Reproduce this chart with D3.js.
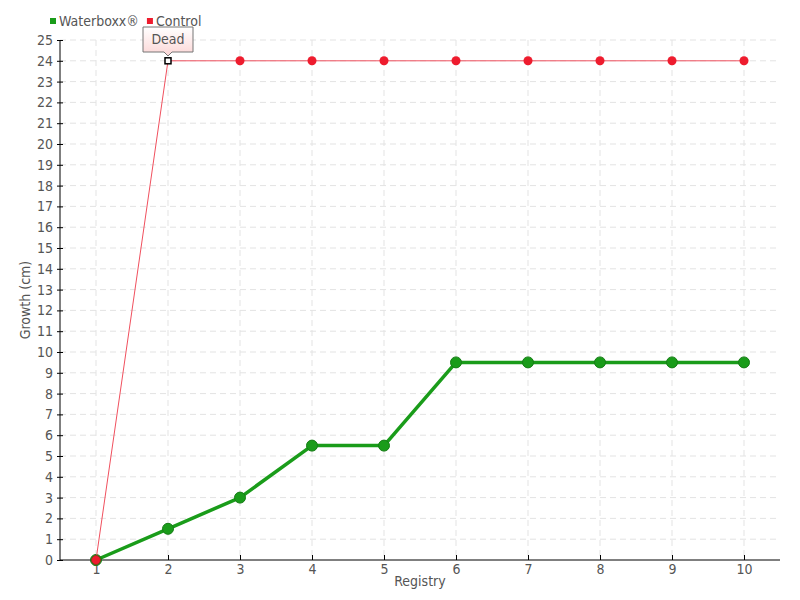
<!DOCTYPE html>
<html><head><meta charset="utf-8">
<script src="https://cdn.jsdelivr.net/npm/d3@7"></script>
<style>
body{margin:0;background:#fff;}
text{font-family:"DejaVu Sans Condensed","DejaVu Sans",sans-serif;font-stretch:condensed;fill:#555;}
</style></head><body>
<svg id="c" width="800" height="600"></svg>
<script>
const registry = [1,2,3,4,5,6,7,8,9,10];
const waterboxx = [0,1.5,3,5.5,5.5,9.5,9.5,9.5,9.5,9.5];
const control = [0,24,24,24,24,24,24,24,24,24];
const yTicks = d3.range(0,26);
const seriesNames = ["Waterboxx®","Control"];
const colors = ["#1a9c1a","#ee1c2e"];
const annotationLabel = "Dead";
const annotationIndex = 1;

const svg = d3.select("#c");
const m = {l:60,r:20,t:40,b:40};
const W=800,H=600;
const x = d3.scalePoint().domain(registry).range([m.l,W-m.r]).padding(0.5);
const y = d3.scaleLinear().domain([0,25]).range([H-m.b,m.t]);

// grid
const g = svg.append("g");
g.selectAll(".hg").data(yTicks.filter(d=>d>0)).join("line")
 .attr("x1",m.l).attr("x2",W-m.r).attr("y1",d=>y(d)).attr("y2",d=>y(d))
 .attr("stroke","#e3e3e3").attr("stroke-dasharray","6,4");
g.selectAll(".vg").data(registry).join("line")
 .attr("x1",d=>x(d)).attr("x2",d=>x(d)).attr("y1",m.t).attr("y2",H-m.b)
 .attr("stroke","#e3e3e3").attr("stroke-dasharray","6,4");

// axes
const ya = svg.append("g").attr("transform",`translate(${m.l},0)`)
 .call(d3.axisLeft(y).tickValues(yTicks).tickSize(3).tickPadding(4).tickFormat(d3.format("d")));
ya.select(".domain").attr("stroke","#000").attr("d",`M0,${m.t}V${H-m.b}`);
ya.selectAll(".tick line").attr("x1",-3).attr("x2",3).attr("stroke","#000");
ya.selectAll("text").style("font-size","14px").attr("fill","#555");
const xa = svg.append("g").attr("transform",`translate(0,${H-m.b})`)
 .call(d3.axisBottom(x).tickSize(0).tickPadding(4));
xa.select(".domain").attr("stroke","#000").attr("d",`M${m.l},0H${W-m.r}`);
xa.selectAll(".tick line").attr("y1",-5).attr("y2",0).attr("stroke","#000");
xa.selectAll("text").style("font-size","14px").attr("fill","#555");

svg.append("text").attr("x",(m.l+W-m.r)/2).attr("y",586).attr("text-anchor","middle")
 .style("font-size","14px").text("Registry");
svg.append("text").attr("transform",`translate(30,${(m.t+H-m.b)/2}) rotate(-90)`)
 .attr("text-anchor","middle").style("font-size","14px").text("Growth (cm)");

// series
const line = d3.line().x((d,i)=>x(registry[i])).y(d=>y(d));
svg.append("path").datum(waterboxx).attr("d",line).attr("fill","none")
 .attr("stroke",colors[0]).attr("stroke-width",3.5).attr("stroke-linejoin","round");
svg.selectAll(".wp").data(waterboxx).join("circle")
 .attr("cx",(d,i)=>x(registry[i])).attr("cy",d=>y(d)).attr("r",5.5)
 .attr("fill",colors[0]).attr("stroke","#167d16").attr("stroke-width",1);
svg.append("path").datum(control).attr("d",line).attr("fill","none")
 .attr("stroke","#f0505e").attr("stroke-width",1);
control.forEach((d,i)=>{
  if(i===annotationIndex) return;
  svg.append("circle").attr("cx",x(registry[i])).attr("cy",y(d)).attr("r",4.5)
   .attr("fill",colors[1]).attr("stroke",i===0?"#8a3a1a":"none").attr("stroke-width",1);
});
// annotated point
const ax = x(registry[annotationIndex]), ay = y(control[annotationIndex]);
svg.append("rect").attr("x",ax-3).attr("y",ay-3).attr("width",6).attr("height",6)
 .attr("fill","#fff").attr("stroke","#000").attr("stroke-width",1.5);

// tooltip
const defs = svg.append("defs");
const gr = defs.append("linearGradient").attr("id","tg").attr("x1",0).attr("y1",0).attr("x2",0).attr("y2",1);
gr.append("stop").attr("offset",0).attr("stop-color","#ffffff");
gr.append("stop").attr("offset",1).attr("stop-color","#fcd6d6");
const tw=50, th=25, tx=ax-25, ty=27;
svg.append("path")
 .attr("d",`M${tx},${ty}H${tx+tw}V${ty+th}H${ax+4}L${ax},${ty+th+4}L${ax-4},${ty+th}H${tx}Z`)
 .attr("fill","url(#tg)").attr("stroke","#777").attr("stroke-width",1);
svg.append("text").attr("x",ax).attr("y",ty+17).attr("text-anchor","middle")
 .style("font-size","14px").text(annotationLabel);

// legend
const lg = svg.append("g").attr("transform","translate(50,21)");
let lx=0;
seriesNames.forEach((n,i)=>{
  const gg = lg.append("g").attr("transform",`translate(${lx},0)`);
  gg.append("rect").attr("x",0).attr("y",-3).attr("width",6).attr("height",6).attr("fill",colors[i]);
  const t = gg.append("text").attr("x",9).attr("y",5).style("font-size","14px").text(n);
  lx += 9 + t.node().getComputedTextLength() + 8;
});
</script></body></html>
